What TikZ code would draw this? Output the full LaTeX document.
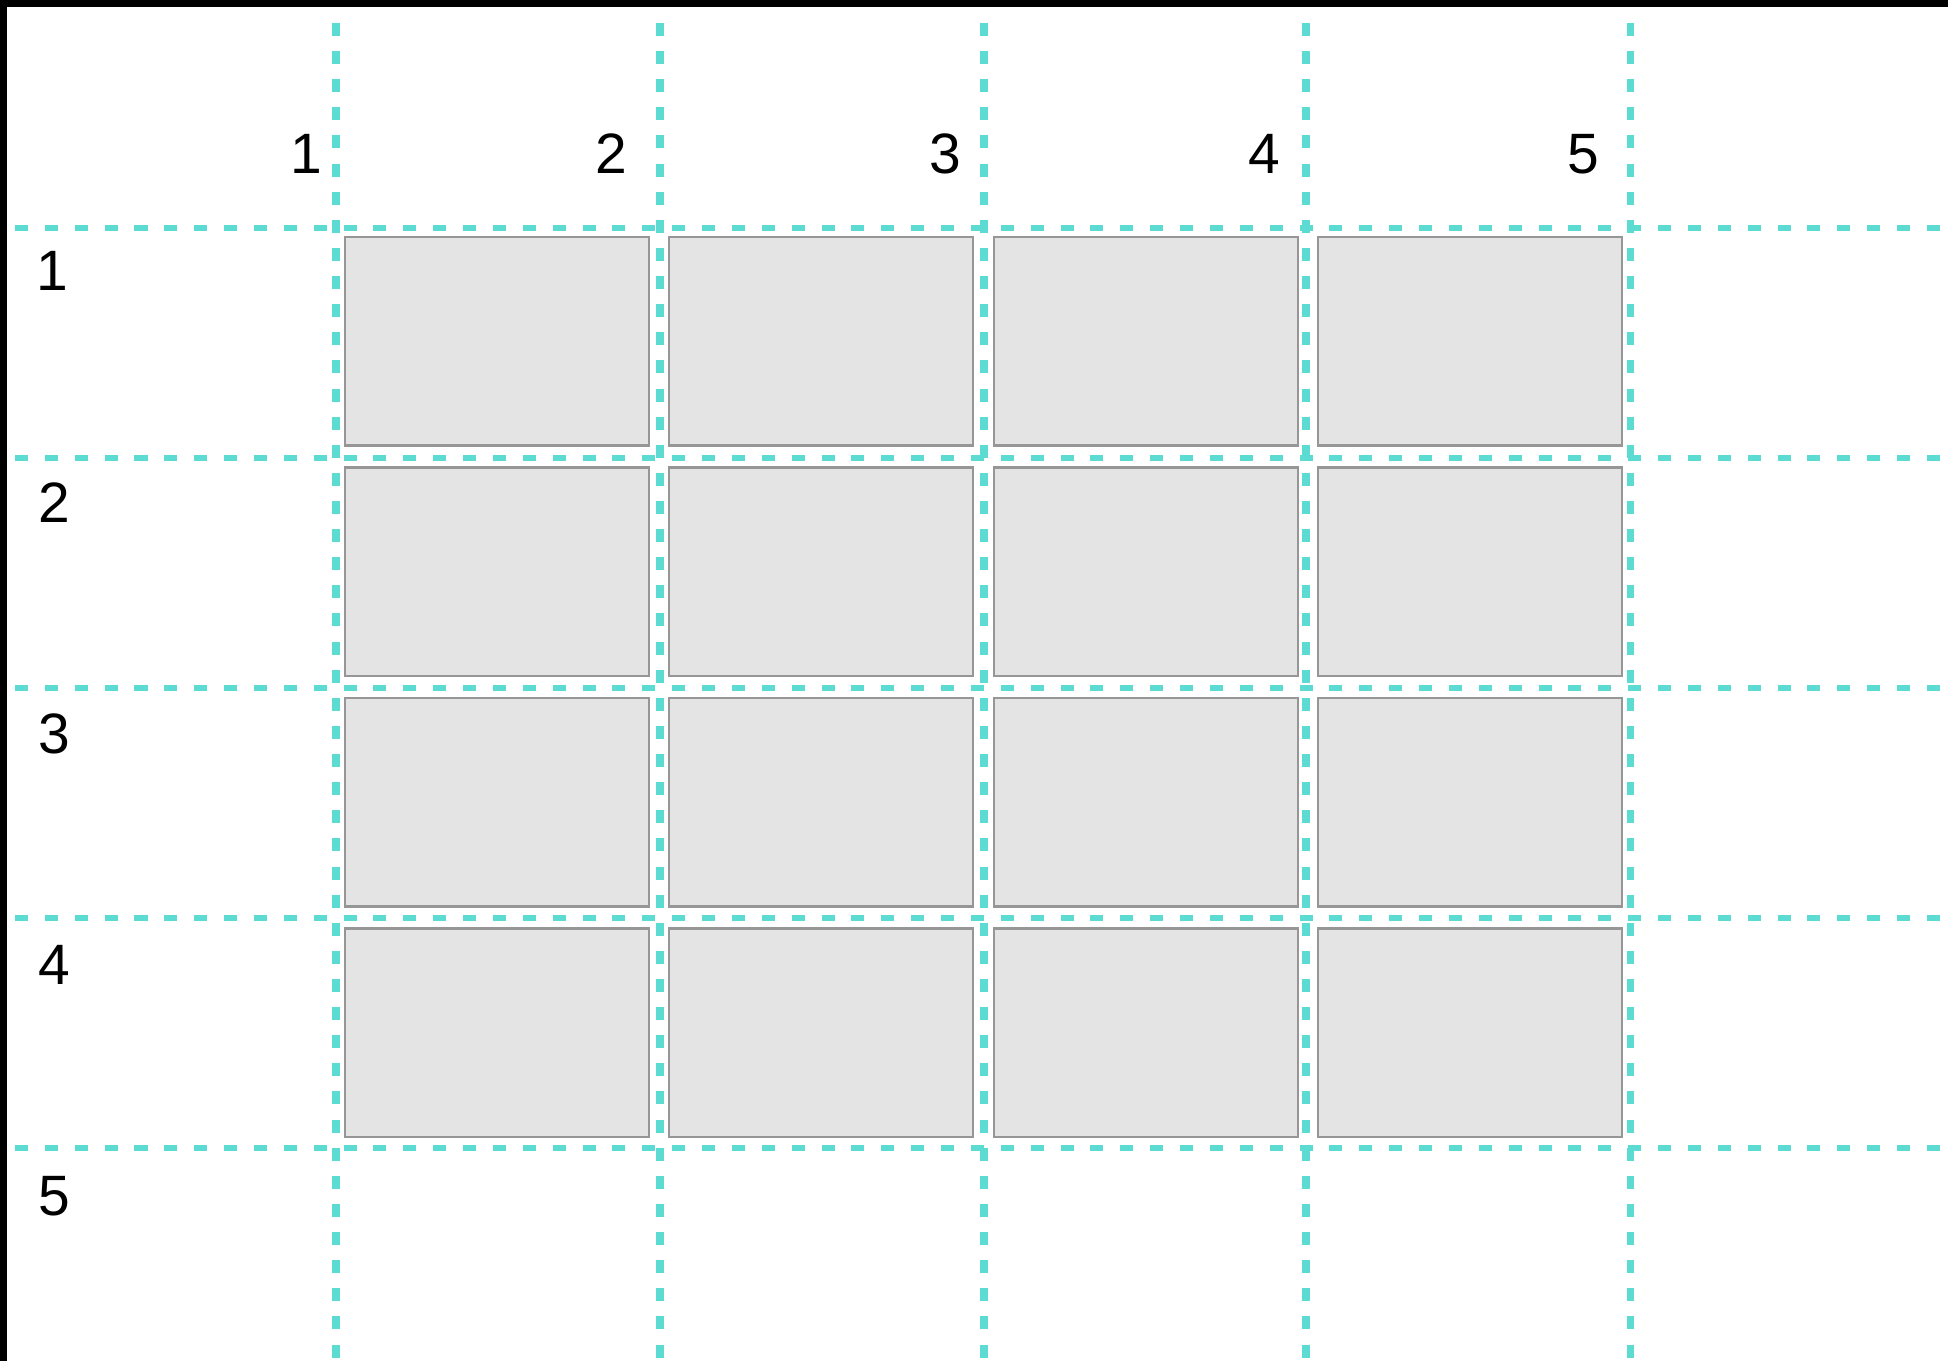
\documentclass[tikz,border=0pt]{standalone}
\usepackage{fontspec}
\setmainfont{Liberation Sans}
\definecolor{guia}{RGB}{92,219,211}
\definecolor{celda}{RGB}{228,228,228}
\definecolor{bordecelda}{RGB}{150,150,150}
\tikzset{
    guiav/.style={guia, line width=2pt, dash pattern=on 3.7pt off 4.3pt},
    guiah/.style={guia, line width=1.7pt, dash pattern=on 3.7pt off 4.8pt},
    caja/.style={draw=bordecelda, fill=celda, line width=0.6pt},
    etiqueta/.style={inner sep=0pt, font=\fontsize{16.2}{19}\selectfont}
}
\begin{document}
\begin{tikzpicture}
        \useasboundingbox (0,0) rectangle (19.48,13.61);
        \fill[white] (0,0) rectangle (19.48,13.61);

        % Bordes negros arriba e izquierda
        \fill[black] (0,13.54) rectangle (19.48,13.61);
        \fill[black] (0,0) rectangle (0.07,13.61);

        % Líneas guía verticales (columnas)
        \draw[guiav] (3.36,13.38) -- (3.36,0);
        \draw[guiav] (6.60,13.38) -- (6.60,0);
        \draw[guiav] (9.84,13.38) -- (9.84,0);
        \draw[guiav] (13.06,13.38) -- (13.06,0);
        \draw[guiav] (16.30,13.38) -- (16.30,0);

        % Líneas guía horizontales (filas)
        \draw[guiah] (0.15,11.33) -- (19.48,11.33);
        \draw[guiah] (0.15,9.03) -- (19.48,9.03);
        \draw[guiah] (0.15,6.73) -- (19.48,6.73);
        \draw[guiah] (0.15,4.43) -- (19.48,4.43);
        \draw[guiah] (0.15,2.13) -- (19.48,2.13);

        % Celdas grises 4x4
        \foreach \i in {0,...,3} {
            \foreach \j in {0,...,3} {
                \draw[caja] ({3.45+3.243*\i},{11.24-2.305*\j}) rectangle ++(3.04,-2.085);
            }
        }

        % Números de las columnas
        \node[etiqueta, anchor=base east] (col1) at (3.23,11.88) {1};
        \node[etiqueta, anchor=base east] (col2) at (6.28,11.88) {2};
        \node[etiqueta, anchor=base east] (col3) at (9.62,11.88) {3};
        \node[etiqueta, anchor=base east] (col4) at (12.81,11.88) {4};
        \node[etiqueta, anchor=base east] (col5) at (16.00,11.88) {5};

        % Números de las filas
        \node[etiqueta, anchor=base west] (fila1) at (0.36,10.71) {1};
        \node[etiqueta, anchor=base west] (fila2) at (0.38,8.39) {2};
        \node[etiqueta, anchor=base west] (fila3) at (0.38,6.08) {3};
        \node[etiqueta, anchor=base west] (fila4) at (0.38,3.77) {4};
        \node[etiqueta, anchor=base west] (fila5) at (0.38,1.46) {5};

    \end{tikzpicture}
\end{document}
